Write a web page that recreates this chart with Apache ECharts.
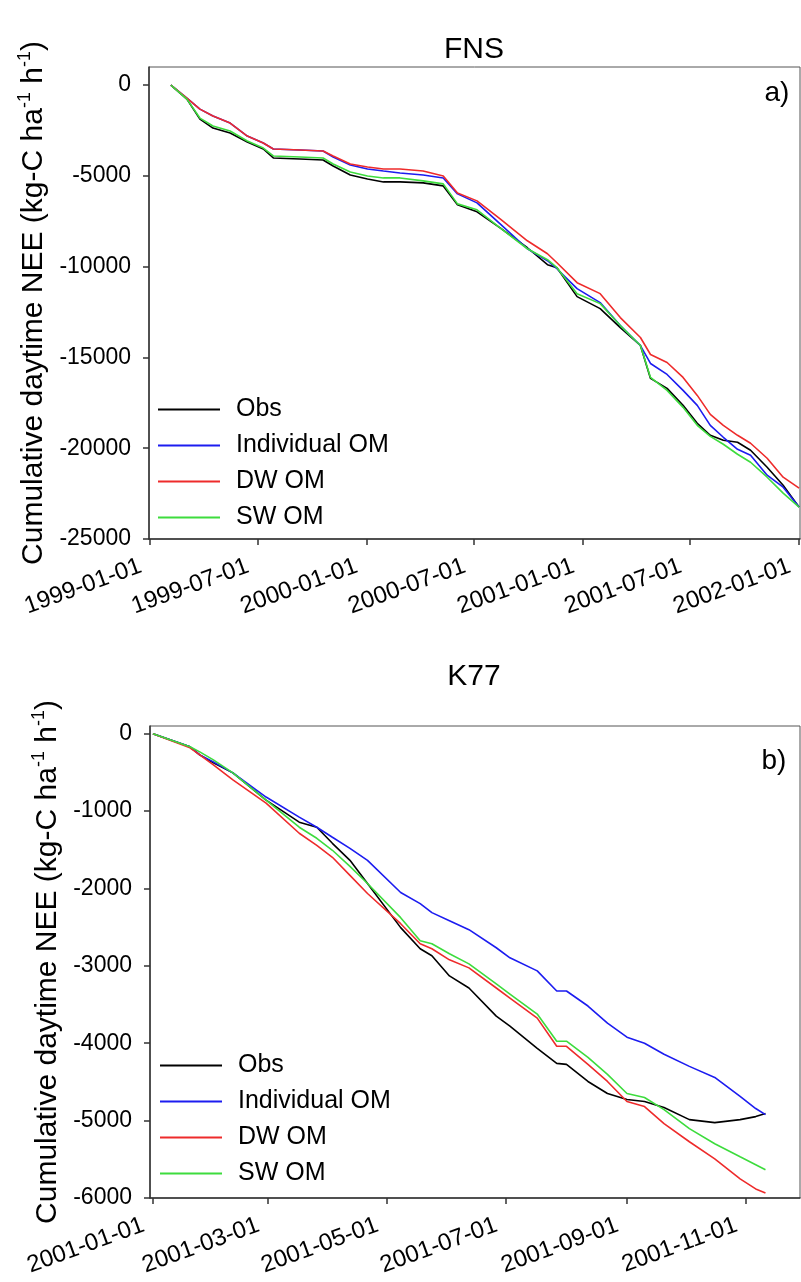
<!DOCTYPE html>
<html>
<head>
<meta charset="utf-8">
<script src="https://cdn.jsdelivr.net/npm/echarts@6/dist/echarts.min.js"></script>
<style>
html,body{margin:0;padding:0;background:#ffffff;}
#chart{width:801px;height:1282px;}
</style>
</head>
<body>
<div id="chart"></div>
<script>
// ---------- data ----------
const seriesNames = ['Obs', 'Individual OM', 'DW OM', 'SW OM'];
const seriesColors = ['#000000', '#1c1cf0', '#ee2b2b', '#3ddc3d'];

// Panel a) FNS
const fnsDates = ['1999-02-05','1999-03-04','1999-03-26','1999-04-17','1999-05-16','1999-06-14','1999-07-11','1999-07-28','1999-09-11','1999-10-20','1999-11-06','1999-12-05','2000-01-03','2000-01-30','2000-02-27','2000-04-06','2000-05-10','2000-06-03','2000-07-06','2000-08-14','2000-09-29','2000-11-02','2000-11-18','2000-12-22','2001-01-30','2001-03-05','2001-04-08','2001-04-25','2001-05-23','2001-06-19','2001-07-13','2001-08-04','2001-08-26','2001-09-19','2001-10-11','2001-11-08','2001-12-05','2002-01-01'];
const fnsObs = [0,-769,-1868,-2363,-2638,-3132,-3517,-4011,-4066,-4121,-4451,-4946,-5165,-5330,-5330,-5385,-5550,-6594,-6979,-7858,-8957,-9891,-10056,-11649,-12309,-13353,-14342,-16155,-16705,-17639,-18628,-19287,-19562,-19672,-20112,-21046,-22035,-23243];
const fnsInd = [0,-714,-1319,-1703,-2088,-2802,-3187,-3517,-3572,-3627,-3956,-4396,-4616,-4726,-4836,-4946,-5110,-5990,-6484,-7638,-9012,-9671,-10111,-11210,-11979,-13243,-14342,-15331,-15936,-16815,-17639,-18738,-19397,-20057,-20387,-21486,-22145,-23243];
const fnsDW = [0,-714,-1319,-1703,-2088,-2802,-3187,-3517,-3572,-3627,-3901,-4341,-4506,-4616,-4616,-4726,-5000,-5935,-6374,-7363,-8572,-9287,-9781,-10880,-11485,-12803,-13902,-14837,-15276,-16100,-17089,-18134,-18738,-19287,-19727,-20552,-21596,-22200];
const fnsSW = [0,-769,-1813,-2253,-2528,-3077,-3462,-3901,-3956,-4011,-4341,-4781,-5000,-5110,-5110,-5275,-5440,-6539,-6869,-7858,-9012,-9616,-10056,-11485,-12034,-13243,-14342,-16100,-16815,-17749,-18738,-19344,-19782,-20332,-20771,-21596,-22475,-23243];
const fnsXTicks = ['1999-01-01','1999-07-01','2000-01-01','2000-07-01','2001-01-01','2001-07-01','2002-01-01'];
const fnsYTicks = [0,-5000,-10000,-15000,-20000,-25000];

// Panel b) K77
const k77Dates = ['2001-01-01','2001-01-20','2001-01-25','2001-02-01','2001-02-11','2001-02-28','2001-03-17','2001-03-26','2001-04-03','2001-04-12','2001-04-21','2001-05-08','2001-05-18','2001-05-24','2001-06-02','2001-06-12','2001-06-26','2001-07-03','2001-07-17','2001-07-27','2001-08-01','2001-08-12','2001-08-22','2001-09-01','2001-09-10','2001-09-20','2001-10-03','2001-10-16','2001-10-29','2001-11-06','2001-11-11'];
const k77Obs = [0,-169,-273,-377,-506,-857,-1143,-1208,-1416,-1636,-1935,-2506,-2779,-2870,-3130,-3286,-3649,-3779,-4065,-4260,-4273,-4494,-4649,-4727,-4753,-4831,-4987,-5026,-4987,-4948,-4909];
const k77Ind = [0,-169,-273,-364,-506,-818,-1078,-1208,-1338,-1481,-1636,-2052,-2195,-2312,-2416,-2532,-2766,-2896,-3065,-3325,-3325,-3519,-3740,-3922,-4000,-4143,-4299,-4442,-4688,-4844,-4922];
const k77DW = [0,-182,-273,-403,-597,-896,-1286,-1442,-1597,-1831,-2065,-2455,-2714,-2779,-2922,-3026,-3286,-3416,-3675,-4039,-4039,-4273,-4494,-4753,-4818,-5039,-5273,-5494,-5753,-5883,-5935];
const k77SW = [0,-169,-234,-338,-506,-857,-1208,-1351,-1506,-1714,-1935,-2377,-2675,-2714,-2844,-2974,-3234,-3364,-3623,-3974,-3974,-4182,-4403,-4649,-4701,-4857,-5104,-5299,-5468,-5571,-5636];
const k77XTicks = ['2001-01-01','2001-03-01','2001-05-01','2001-07-01','2001-09-01','2001-11-01'];
const k77YTicks = [0,-1000,-2000,-3000,-4000,-5000,-6000];

// ---------- helpers ----------
const DAY = 86400000;
const FONT = "'Liberation Sans', Arial, sans-serif";
const ts = d => Date.parse(d);
const pairs = (dates, vals) => dates.map((d, i) => [ts(d), vals[i]]);
const fmtDate = v => new Date(v).toISOString().slice(0, 10);

const yName = '{a|Cumulative daytime NEE (kg-C ha}{s|-1}{a| h}{s|-1}{a|)}';
const yNameStyle = {
  fontFamily: FONT,
  color: '#000',
  rich: {
    a: { fontSize: 30, fontFamily: FONT, color: '#000', lineHeight: 34 },
    s: { fontSize: 18, fontFamily: FONT, color: '#000', lineHeight: 20, verticalAlign: 'top' }
  }
};

function xAxisCfg(gridIndex, min, max, ticks) {
  const tv = ticks.map(ts);
  return {
    type: 'value', gridIndex, min, max, scale: true,
    axisLine: { onZero: false, lineStyle: { color: '#333', width: 1.5 } },
    axisTick: { show: true, inside: false, length: 6, customValues: tv, lineStyle: { color: '#333', width: 1.5 } },
    splitLine: { show: false },
    axisLabel: {
      customValues: tv, rotate: 20, margin: 23, padding: [0, 10, 0, 0],
      fontSize: 24, fontFamily: FONT, color: '#000',
      formatter: v => fmtDate(v), hideOverlap: false
    }
  };
}
function yAxisCfg(gridIndex, min, max, ticks, nameGap) {
  return {
    type: 'value', gridIndex, min, max,
    name: yName, nameLocation: 'middle', nameRotate: 90, nameGap,
    nameTextStyle: yNameStyle,
    axisLine: { show: true, lineStyle: { color: '#333', width: 1.5 } },
    axisTick: { show: true, inside: false, length: 6, customValues: ticks, lineStyle: { color: '#333', width: 1.5 } },
    splitLine: { show: false },
    axisLabel: { customValues: ticks, margin: 18, fontSize: 23, fontFamily: FONT, color: '#000', formatter: v => String(v) }
  };
}
function lineSeries(name, idx, data, axisIdx) {
  return {
    type: 'line', name, data, xAxisIndex: axisIdx, yAxisIndex: axisIdx,
    showSymbol: false, symbol: 'none',
    lineStyle: { color: seriesColors[idx], width: 1.6 },
    itemStyle: { color: seriesColors[idx] },
    emphasis: { disabled: true }
  };
}
function legendCfg(top, left) {
  return {
    orient: 'vertical', left, top, itemGap: 11, padding: 0,
    icon: 'rect', itemWidth: 62, itemHeight: 2,
    data: seriesNames,
    textStyle: { fontSize: 25, fontFamily: FONT, color: '#000', lineHeight: 25, padding: [0, 0, 0, 11] },
    selectedMode: false
  };
}

const fnsSets = [fnsObs, fnsInd, fnsDW, fnsSW];
const k77Sets = [k77Obs, k77Ind, k77DW, k77SW];

const option = {
  animation: false,
  backgroundColor: '#ffffff',
  grid: [
    { left: 149, top: 67, right: 1, height: 472, show: true, borderColor: '#555', borderWidth: 1, containLabel: false },
    { left: 150, top: 726, right: 1, height: 472, show: true, borderColor: '#555', borderWidth: 1, containLabel: false }
  ],
  xAxis: [
    xAxisCfg(0, ts('1999-01-01') - 2 * DAY, ts('2002-01-01') + 1.5 * DAY, fnsXTicks),
    xAxisCfg(1, ts('2001-01-01') - 1.5 * DAY, ts('2001-01-01') + 331.7 * DAY, k77XTicks)
  ],
  yAxis: [
    yAxisCfg(0, -25000, 1000, fnsYTicks, 92),
    yAxisCfg(1, -6000, 100, k77YTicks, 80)
  ],
  legend: [legendCfg(397, 158), legendCfg(1053, 160)],
  graphic: [
    { type: 'text', x: 474, y: 50, style: { text: 'FNS', font: '30px ' + FONT, fill: '#000', textAlign: 'center', textVerticalAlign: 'middle' } },
    { type: 'text', x: 474, y: 677, style: { text: 'K77', font: '30px ' + FONT, fill: '#000', textAlign: 'center', textVerticalAlign: 'middle' } },
    { type: 'text', x: 777, y: 93, style: { text: 'a)', font: '28px ' + FONT, fill: '#000', textAlign: 'center', textVerticalAlign: 'middle' } },
    { type: 'text', x: 774, y: 761, style: { text: 'b)', font: '28px ' + FONT, fill: '#000', textAlign: 'center', textVerticalAlign: 'middle' } }
  ],
  series: [
    ...seriesNames.map((n, i) => lineSeries(n, i, pairs(fnsDates, fnsSets[i]), 0)),
    ...seriesNames.map((n, i) => lineSeries(n, i, pairs(k77Dates, k77Sets[i]), 1))
  ]
};

const chart = echarts.init(document.getElementById('chart'), null, { renderer: 'canvas' });
chart.setOption(option);
</script>
</body>
</html>
